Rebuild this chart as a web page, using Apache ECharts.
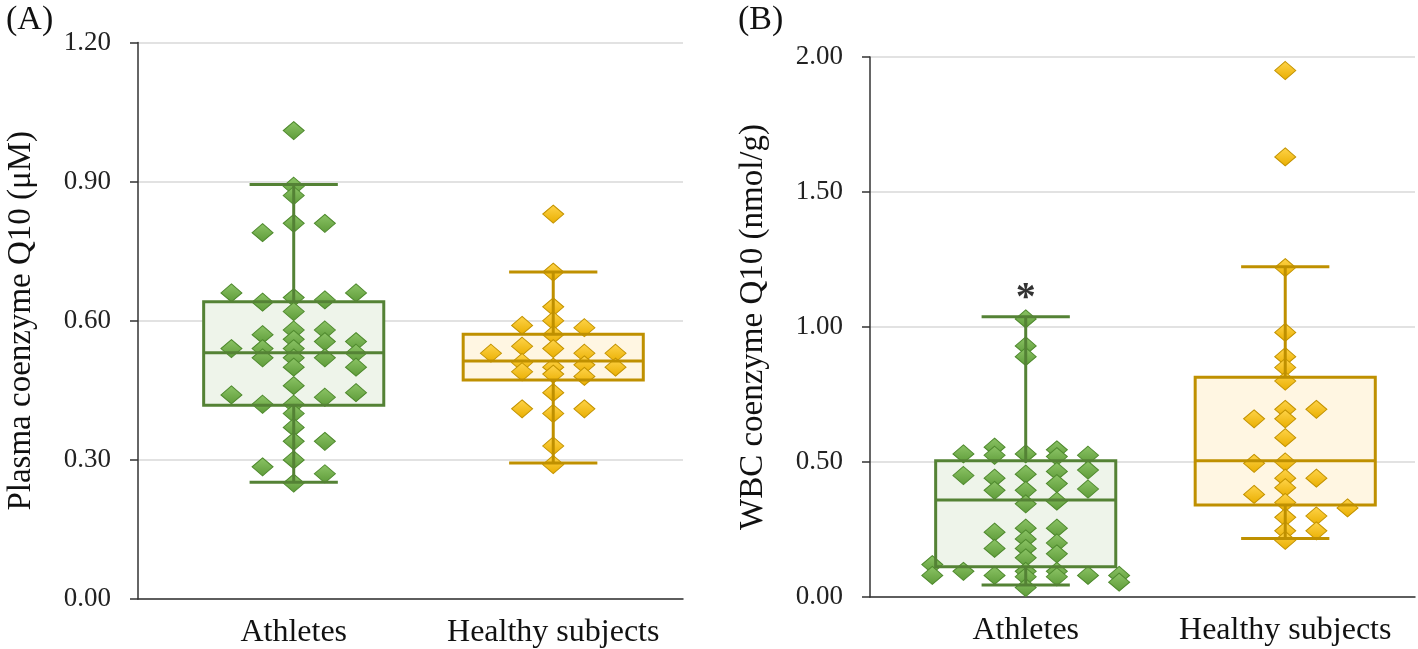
<!DOCTYPE html>
<html>
<head>
<meta charset="utf-8">
<script src="https://cdn.jsdelivr.net/npm/echarts@6/dist/echarts.min.js"></script>
<style>html,body{margin:0;padding:0;background:#fff}#c{width:1418px;height:649px}</style>
</head>
<body>
<div id="c"></div>
<script>
// ---------- DATA ----------
const categories = ['Athletes', 'Healthy subjects'];
const panelLabels = ['(A)', '(B)'];
const yNameA = 'Plasma coenzyme Q10 (\u03bcM)';
const yNameB = 'WBC coenzyme Q10 (nmol/g)';
const yMaxA = 1.2, yStepA = 0.3;
const yMaxB = 2.0, yStepB = 0.5;

// box statistics: [min, q1, median, q3, max]
const plasmaBoxAthletes = [0.252, 0.418, 0.531, 0.641, 0.894];
const plasmaBoxHealthy  = [0.293, 0.472, 0.513, 0.571, 0.705];
const wbcBoxAthletes    = [0.044, 0.112, 0.359, 0.505, 1.038];
const wbcBoxHealthy     = [0.217, 0.341, 0.505, 0.814, 1.223];

// individual values, grouped in the 7 dot-plot columns (left to right)
const plasmaPtsAthletes = [
  [],
  [0.66, 0.54, 0.44],
  [0.79, 0.64, 0.57, 0.54, 0.52, 0.42, 0.285],
  [1.01, 0.89, 0.87, 0.81, 0.65, 0.62, 0.58, 0.56, 0.54, 0.52, 0.50, 0.46, 0.42, 0.40, 0.37, 0.34, 0.30, 0.25],
  [0.81, 0.645, 0.58, 0.555, 0.52, 0.435, 0.34, 0.27],
  [0.66, 0.555, 0.53, 0.50, 0.445],
  []
];
const plasmaPtsHealthy = [
  [],
  [0.53],
  [0.59, 0.545, 0.51, 0.49, 0.41],
  [0.83, 0.705, 0.63, 0.60, 0.57, 0.54, 0.50, 0.485, 0.445, 0.40, 0.33, 0.29],
  [0.585, 0.53, 0.505, 0.48, 0.41],
  [0.53, 0.50],
  []
];
const wbcPtsAthletes = [
  [0.12, 0.08],
  [0.53, 0.45, 0.095],
  [0.555, 0.525, 0.44, 0.395, 0.24, 0.18, 0.08],
  [1.03, 0.93, 0.89, 0.53, 0.455, 0.395, 0.345, 0.255, 0.215, 0.18, 0.145, 0.095, 0.075, 0.035],
  [0.545, 0.52, 0.465, 0.42, 0.355, 0.255, 0.20, 0.16, 0.095, 0.075],
  [0.525, 0.47, 0.40, 0.08],
  [0.08, 0.055]
];
const wbcPtsHealthy = [
  [],
  [],
  [0.66, 0.495, 0.38],
  [1.95, 1.63, 1.22, 0.98, 0.89, 0.85, 0.80, 0.695, 0.66, 0.59, 0.50, 0.44, 0.405, 0.35, 0.295, 0.245, 0.21],
  [0.695, 0.44, 0.30, 0.245],
  [0.33],
  []
];
// significance marks (per category) for panel B
const wbcSignificance = ['*', ''];

// ---------- STYLE ----------
const FONT = '"Liberation Serif", "Times New Roman", serif';
const strokeColors = ['#548235', '#BF9000'];
const fillColors = ['#EEF4EA', '#FFF6E2'];
const dotColors = [
  {top: '#8CC466', bottom: '#5E9B39', border: '#4F8A2E'},
  {top: '#FFD44A', bottom: '#E9AE00', border: '#C39300'}
];
const COL_STEP = 0.12, BOX_HW = 0.347, CAP_HW = 0.17;

function dots(cols, gi) {
  const out = [];
  cols.forEach((col, ci) => col.forEach(v => out.push([gi + 1 + (ci - 3) * COL_STEP, v])));
  return out;
}
function boxRow(stats, gi) { return [gi + 1].concat(stats); }

function renderFill(params, api) {
  const x = api.value(0);
  const a = api.coord([x - BOX_HW, api.value(4)]);
  const b = api.coord([x + BOX_HW, api.value(2)]);
  return {type: 'rect', shape: {x: a[0], y: a[1], width: b[0] - a[0], height: b[1] - a[1]},
          style: {fill: fillColors[params.dataIndex]}};
}
function renderStroke(params, api) {
  const x = api.value(0);
  const mn = api.value(1), q1 = api.value(2), md = api.value(3), q3 = api.value(4), mx = api.value(5);
  const c = api.coord.bind(api);
  const col = strokeColors[params.dataIndex];
  const st = {stroke: col, lineWidth: 3, fill: null};
  const L = (p1, p2) => ({type: 'line', shape: {x1: p1[0], y1: p1[1], x2: p2[0], y2: p2[1]}, style: st});
  const tl = c([x - BOX_HW, q3]), br = c([x + BOX_HW, q1]);
  return {type: 'group', children: [
    {type: 'rect', shape: {x: tl[0], y: tl[1], width: br[0] - tl[0], height: br[1] - tl[1]}, style: st},
    L(c([x - BOX_HW, md]), c([x + BOX_HW, md])),
    L(c([x, q3]), c([x, mx])),
    L(c([x, mn]), c([x, q1])),
    L(c([x - CAP_HW, mx]), c([x + CAP_HW, mx])),
    L(c([x - CAP_HW, mn]), c([x + CAP_HW, mn]))
  ]};
}

function dotStyle(gi) {
  const d = dotColors[gi];
  return {
    color: new echarts.graphic.LinearGradient(0, 0, 0, 1, [{offset: 0, color: d.top}, {offset: 1, color: d.bottom}]),
    borderColor: d.border, borderWidth: 1, opacity: 1
  };
}

function xAxisFor(gridIndex) {
  return {
    type: 'value', gridIndex, min: 0.4, max: 2.5,
    axisLine: {show: true, onZero: false, lineStyle: {color: '#333', width: 1.5}},
    axisTick: {show: false},
    splitLine: {show: false},
    axisLabel: {
      customValues: [1, 2], margin: 18,
      formatter: v => categories[Math.round(v) - 1] || '',
      fontFamily: FONT, fontSize: 32, color: '#111'
    }
  };
}
function yAxisFor(gridIndex, max, step, name) {
  return {
    type: 'value', gridIndex, min: 0, max, interval: step, name,
    nameLocation: 'middle', nameGap: 100, nameRotate: 90,
    nameTextStyle: {fontFamily: FONT, fontSize: 33, color: '#111'},
    axisLine: {show: true, onZero: false, lineStyle: {color: '#333', width: 1.5}},
    axisTick: {show: true, length: 8, lineStyle: {color: '#333', width: 1.5}},
    splitLine: {show: true, lineStyle: {color: '#D9D9D9', width: 1.5}},
    axisLabel: {margin: 27, formatter: v => v.toFixed(2), fontFamily: FONT, fontSize: 27, color: '#222'}
  };
}

function panelSeries(gridIndex, boxA, boxH, ptsA, ptsH, sig) {
  const s = [
    {type: 'custom', xAxisIndex: gridIndex, yAxisIndex: gridIndex, z: 1, silent: true,
     renderItem: renderFill, data: [boxRow(boxA, 0), boxRow(boxH, 1)]},
    {type: 'scatter', xAxisIndex: gridIndex, yAxisIndex: gridIndex, z: 2, symbol: 'diamond',
     symbolSize: [21, 18], itemStyle: dotStyle(0), data: dots(ptsA, 0)},
    {type: 'scatter', xAxisIndex: gridIndex, yAxisIndex: gridIndex, z: 2, symbol: 'diamond',
     symbolSize: [21, 18], itemStyle: dotStyle(1), data: dots(ptsH, 1)},
    {type: 'custom', xAxisIndex: gridIndex, yAxisIndex: gridIndex, z: 3, silent: true,
     renderItem: renderStroke, data: [boxRow(boxA, 0), boxRow(boxH, 1)]}
  ];
  if (sig) {
    s.push({type: 'scatter', xAxisIndex: gridIndex, yAxisIndex: gridIndex, z: 4, symbolSize: 0,
      data: [[1, boxA[4], sig[0]], [2, boxH[4], sig[1]]],
      label: {show: true, position: 'top', distance: -2, formatter: p => p.value[2],
              fontFamily: FONT, fontSize: 40, fontWeight: 'bold', color: '#000'}});
  }
  return s;
}

const chart = echarts.init(document.getElementById('c'), null, {renderer: 'canvas'});
chart.setOption({
  animation: false,
  backgroundColor: '#fff',
  title: [
    {text: panelLabels[0], left: 1, top: -2, textStyle: {fontFamily: FONT, fontSize: 34, fontWeight: 'normal', color: '#111'}},
    {text: panelLabels[1], left: 733, top: -2, textStyle: {fontFamily: FONT, fontSize: 34, fontWeight: 'normal', color: '#111'}}
  ],
  grid: [
    {left: 138, width: 545, top: 42.5, height: 556.5, outerBoundsMode: 'none', containLabel: false},
    {left: 870, width: 545, top: 57, height: 540, outerBoundsMode: 'none', containLabel: false}
  ],
  xAxis: [xAxisFor(0), xAxisFor(1)],
  yAxis: [yAxisFor(0, yMaxA, yStepA, yNameA), yAxisFor(1, yMaxB, yStepB, yNameB)],
  series: [].concat(
    panelSeries(0, plasmaBoxAthletes, plasmaBoxHealthy, plasmaPtsAthletes, plasmaPtsHealthy, null),
    panelSeries(1, wbcBoxAthletes, wbcBoxHealthy, wbcPtsAthletes, wbcPtsHealthy, wbcSignificance)
  )
});
</script>
</body>
</html>
